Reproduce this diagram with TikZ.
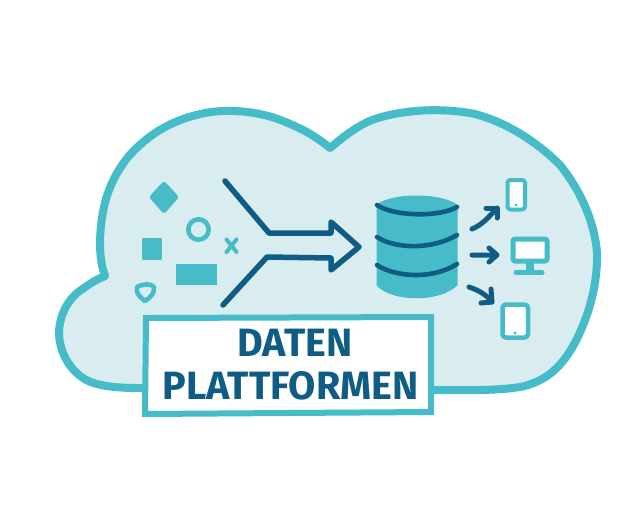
\documentclass[tikz,border=0pt]{standalone}
\usepackage{fontspec}
\setmainfont{Fira Sans}
\definecolor{tealc}{HTML}{45BCC8}
\definecolor{pale}{HTML}{D9ECF0}
\definecolor{navy}{HTML}{0F5C84}
\tikzset{x=1pt,y=-1pt,
 ink/.style={draw=navy,line width=5.5pt,line cap=round,line join=round},
 dbline/.style={draw=navy,line width=4.6pt,line cap=round,line join=round},
 arrowline/.style={draw=navy,line width=5pt,line cap=round,line join=round},
 outline/.style={draw=tealc,line join=round,line cap=round},
 solid teal/.style={fill=tealc,draw=tealc,line join=round},
 caption/.style={text=navy,font=\fontsize{39.5}{42}\selectfont\bfseries,inner sep=0pt}}
\begin{document}
\begin{tikzpicture}
\useasboundingbox (0,0) rectangle (640,512);
\fill[white] (0,0) rectangle (640,512);
% cloud
\draw[outline,line width=8pt,fill=pale]
 (140,388) .. controls (115,388) and (95,386) .. (83,378)
 .. controls (68,368) and (59,350) .. (59,332)
 .. controls (60,310) and (72,295) .. (84,288)
 .. controls (92,282) and (98,279) .. (105,276)
 .. controls (100,262) and (99,245) .. (101,226)
 .. controls (104,195) and (114,175) .. (128,157)
 .. controls (150,132) and (175,119) .. (205,113)
 .. controls (232,108) and (265,112) .. (290,124)
 .. controls (305,130) and (318,138) .. (330,148)
 .. controls (342,138) and (355,127) .. (372,120)
 .. controls (400,110) and (440,107) .. (475,114)
 .. controls (505,122) and (535,140) .. (560,165)
 .. controls (580,190) and (594,220) .. (597,252)
 .. controls (598,285) and (588,320) .. (572,348)
 .. controls (560,368) and (545,382) .. (520,387)
 .. controls (495,391) and (465,390) .. (435,390)
 -- (300,392) -- cycle;
% small shapes
\path[solid teal,line width=3pt,rounded corners=1pt] (164,183) -- (177,197) -- (164,212) -- (151,197) -- cycle;
\draw[outline,line width=4.6pt] (198.5,229.5) circle (10.2);
\path[solid teal,line width=1.5pt] (143,239) -- (161,239) -- (161,259) -- (143,259) -- cycle;
\path[solid teal,line width=1pt] (176.5,264.5) -- (216.5,264.5) -- (216.5,284.5) -- (176.5,284.5) -- cycle;
\draw[outline,line width=4pt] (226.5,239.5) -- (236.5,252) (236.5,239.5) -- (226.5,252);
\draw[outline,line width=4.6pt,fill=pale] (137,287) .. controls (142,284) and (151,283) .. (154,287) .. controls (155,293) and (150,298) .. (145,301) .. controls (141,298) and (135,293) .. (137,287) -- cycle;
% merging arrow
\coordinate (t1) at (225,181); \coordinate (t2) at (269,233);
\coordinate (t3) at (331,233); \coordinate (t4) at (331,222);
\coordinate (tip) at (359,247); \coordinate (b4) at (331,270);
\coordinate (b3) at (331,258); \coordinate (b2) at (267,257);
\coordinate (b1) at (223,305);
\draw[ink] (t1) -- (t2) -- (t3) -- (t4) -- (tip) -- (b4) -- (b3) -- (b2) -- (b1);
% database
\path[solid teal,line width=1pt] (377,205) .. controls (392,193) and (440,193) .. (457,205)
 -- (457,285) .. controls (440,302) and (392,302) .. (377,285) -- cycle;
\draw[dbline] (377,205) .. controls (395,217) and (440,217) .. (457,207);
\draw[dbline] (377,237) .. controls (395,249) and (432,250) .. (457,235);
\draw[dbline] (377,265) .. controls (395,277) and (432,280) .. (457,264);
% output arrows
\coordinate (a1) at (472,229); \coordinate (a2) at (497,208);
\coordinate (a3) at (472,255); \coordinate (a4) at (497,255);
\coordinate (a5) at (469,287); \coordinate (a6) at (492,302);
\draw[arrowline] (a1) .. controls (482,225) and (490,216) .. (a2);
\draw[arrowline] (486,208) -- (a2) -- (497,218);
\draw[arrowline] (a3) -- (a4) (489,248) -- (a4) -- (489,262);
\draw[arrowline] (a5) .. controls (478,290) and (487,295) .. (a6);
\draw[arrowline] (491,289) -- (a6) -- (481,303);
% phone
\draw[outline,line width=4pt,fill=white,rounded corners=3pt] (507.5,180) rectangle (525,209.5);
\fill[tealc] (516,205) circle (1.5);
% monitor
\draw[outline,line width=5pt,fill=white,rounded corners=1.5pt] (513,239) rectangle (547,261);
\draw[outline,line width=8pt,line cap=butt] (530,261) -- (530,271);
\draw[outline,line width=5pt] (516,272.5) -- (542,272.5);
% tablet
\draw[outline,line width=4.5pt,fill=white,rounded corners=3.5pt] (502.5,304.5) rectangle (528,337.5);
\fill[tealc] (515,333) circle (1.6);
% caption box
\draw[outline,line width=6pt,fill=white,line join=miter] (146,318) -- (431,317) -- (431,412) -- (145,414) -- cycle;
\node[caption] (l1) at (295,343) {DATEN};
\node[caption] (l2) at (290.5,386) {PLATTFORMEN};
\end{tikzpicture}
\end{document}
